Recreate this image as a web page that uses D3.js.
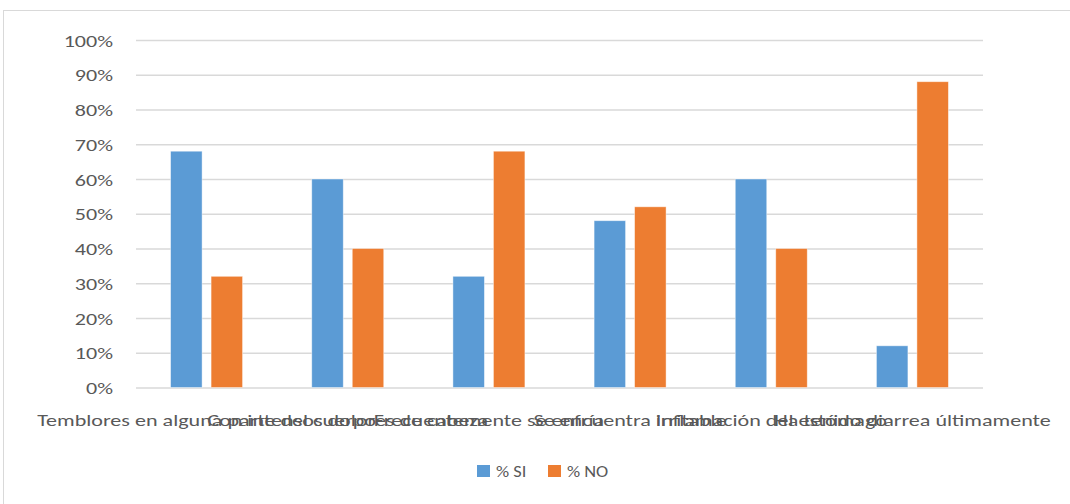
<!DOCTYPE html>
<html>
<head>
<meta charset="utf-8">
<script src="https://cdn.jsdelivr.net/npm/d3@7/dist/d3.min.js"></script>
<style>
  html, body { margin: 0; padding: 0; background: #fff; }
  svg { display: block; }
  text { font-family: Carlito, Calibri, Lato, "Open Sans", sans-serif; fill: #595959; }
</style>
</head>
<body>
<svg id="chart" width="1070" height="504"></svg>
<script>
// Survey answers per symptom: share answering yes / no
const categories = [
  "Temblores en alguna parte del cuerpo",
  "Con intensos dolores de cabeza",
  "Frecuentemente se enfría",
  "Se encuentra irritable",
  "Inflamación del estómago",
  "Ha tenido diarrea últimamente"
];
const seriesNames = ["% SI", "% NO"];
const siValues = [0.68, 0.60, 0.32, 0.48, 0.60, 0.12];
const noValues = [0.32, 0.40, 0.68, 0.52, 0.40, 0.88];
const yTicks = [0, 0.1, 0.2, 0.3, 0.4, 0.5, 0.6, 0.7, 0.8, 0.9, 1.0];
const colors = ["#5b9bd5", "#ed7d31"];

const svg = d3.select("#chart");
const fontSize = 17;
const stretch = 1.3;        // axis glyphs are set wider than the font's natural width
const legendStretch = 1.08;
const fontStack = "Carlito, Calibri, Lato, 'Open Sans', sans-serif";

const plot = { left: 136, right: 983, top: 40, bottom: 387.5 };

// outer chart frame
svg.append("rect")
  .attr("x", 3.5).attr("y", 10.5)
  .attr("width", 1100).attr("height", 520)
  .attr("fill", "none").attr("stroke", "#d9d9d9").attr("stroke-width", 1);

const x0 = d3.scaleBand()
  .domain(categories)
  .range([plot.left, plot.right])
  .paddingInner(0.49)
  .paddingOuter(0.245);

const x1 = d3.scaleBand()
  .domain(seriesNames)
  .range([0, x0.bandwidth()])
  .paddingInner(0.222)
  .paddingOuter(0);

const y = d3.scaleLinear().domain([0, 1]).range([plot.bottom, plot.top]);

// horizontal gridlines + y labels
const yAxis = svg.append("g")
  .attr("transform", `translate(${plot.left},0)`)
  .call(d3.axisLeft(y).tickValues(yTicks).tickFormat(d3.format(".0%"))
        .tickSize(-(plot.right - plot.left)).tickPadding(0));
yAxis.select(".domain").remove();
yAxis.selectAll(".tick line")
  .attr("stroke", "#d9d9d9").attr("stroke-width", 1.3);
yAxis.selectAll(".tick text")
  .attr("font-size", fontSize)
  .attr("x", -23 / stretch)
  .attr("dy", "0.36em")
  .attr("transform", `scale(${stretch},1)`)
  .style("fill", "#595959")
  .style("font-family", fontStack);

// bars
const rows = categories.map((c, i) => ({ cat: c, vals: [siValues[i], noValues[i]] }));
const groups = svg.append("g").selectAll("g")
  .data(rows).join("g")
  .attr("transform", d => `translate(${x0(d.cat)},0)`);
groups.selectAll("rect")
  .data(d => d.vals.map((v, k) => ({ key: seriesNames[k], v, k })))
  .join("rect")
  .attr("x", d => x1(d.key))
  .attr("width", x1.bandwidth())
  .attr("y", d => y(d.v))
  .attr("height", d => y(0) - y(d.v))
  .attr("fill", d => colors[d.k])
  .attr("stroke", "rgba(255,255,255,0.55)")
  .attr("stroke-width", 0.8);

// category labels (long names run into each other, as in the source chart)
const xAxis = svg.append("g")
  .attr("transform", `translate(0,${plot.bottom})`)
  .call(d3.axisBottom(x0).tickSize(0).tickPadding(0));
xAxis.select(".domain").remove();
xAxis.selectAll(".tick text")
  .attr("font-size", fontSize)
  .attr("y", 0)
  .attr("dy", "2.25em")
  .attr("transform", `scale(${stretch},1)`)
  .style("fill", "#595959")
  .style("font-family", fontStack);

// legend
const legend = svg.append("g");
const legendItems = [
  { name: seriesNames[0], color: colors[0], x: 477 },
  { name: seriesNames[1], color: colors[1], x: 548 }
];
legendItems.forEach(it => {
  legend.append("rect")
    .attr("x", it.x).attr("y", 465)
    .attr("width", 13).attr("height", 12)
    .attr("fill", it.color);
  legend.append("text")
    .attr("transform", `translate(${it.x + 19},471) scale(${legendStretch},1)`)
    .attr("dy", "0.36em")
    .attr("font-size", fontSize)
    .text(it.name);
});
</script>
</body>
</html>
